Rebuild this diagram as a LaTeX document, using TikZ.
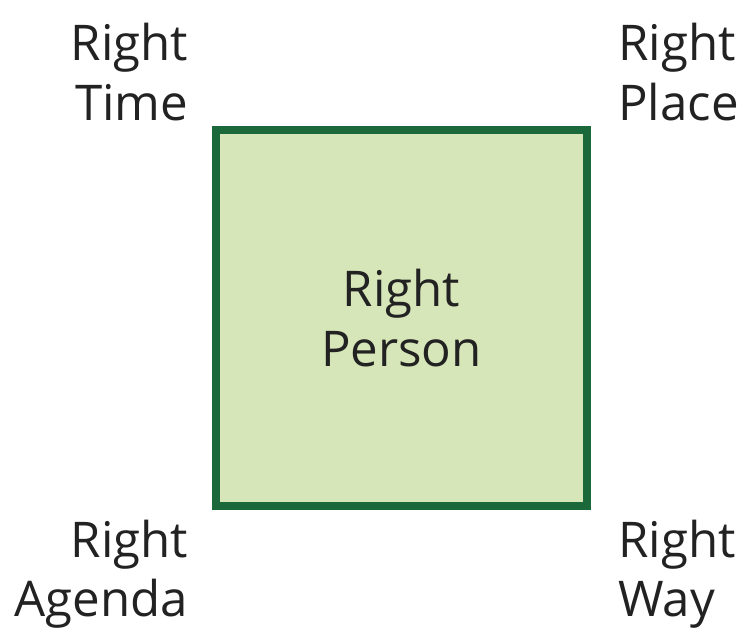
\documentclass[tikz,border=0pt]{standalone}
\usepackage{fontspec}
\setmainfont{Open Sans}
\usetikzlibrary{positioning}
\definecolor{boxfill}{RGB}{214,230,184}
\definecolor{boxline}{RGB}{27,105,58}
\definecolor{txt}{RGB}{34,34,34}

\begin{document}
\begin{tikzpicture}[
    lbl/.style={inner sep=0pt, text=txt, font=\fontsize{28}{34}\selectfont}
  ]
  \useasboundingbox (0,0) rectangle (15.06,12.64);
  \node[draw=boxline, line width=4pt, fill=boxfill, minimum width=7.42cm, minimum height=7.52cm, align=center, lbl] (person) at (8.03,6.28) {Right\\Person};
  \node[lbl, align=right, above left=0.1cm and 0.48cm of person.north west] (time) {Right\\Time};
  \node[lbl, align=left, above right=0.1cm and 0.55cm of person.north east] (place) {Right\\Place};
  \node[lbl, align=right, below left=0.2cm and 0.48cm of person.south west] (agenda) {Right\\Agenda};
  \node[lbl, align=left, below right=0.2cm and 0.55cm of person.south east] (way) {Right\\Way};
\end{tikzpicture}
\end{document}
